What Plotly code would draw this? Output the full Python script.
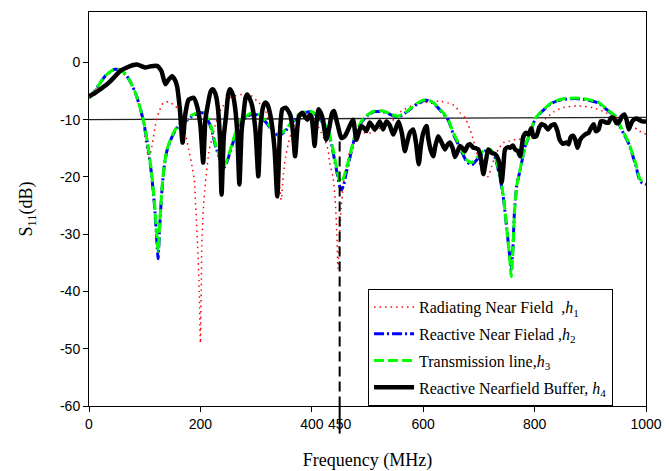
import plotly.graph_objects as go

# ---------------- data ----------------
freq_h1 = [0, 10, 20, 30, 40, 47, 55, 65, 75, 86, 92, 98, 101, 104, 107, 110, 113, 119, 125, 134,
           143, 155, 161, 170, 179, 185, 189, 192, 195, 198, 200, 201.5, 202.5, 205, 209, 216, 222,
           228, 237, 252, 275, 293, 302, 314, 327, 334, 340, 345, 349, 353, 358, 365, 377, 390, 399,
           411, 417, 423, 429, 432, 438, 442, 445, 447, 450, 453, 456, 462, 470, 483, 495, 507, 519,
           534, 543, 561, 585, 610, 633, 645, 657, 666, 675, 684, 690, 699, 705, 711, 717, 723, 729,
           735, 744, 753, 762, 771, 780, 792, 807, 820, 835, 851, 877, 904, 922, 952, 976, 988, 1000]
s11_h1 = [-6.3, -5.0, -3.6, -2.3, -1.5, -1.3, -1.5, -2.3, -3.7, -5.9, -8.5, -10.8, -13.5, -15.2, -16.6,
          -16.0, -14.6, -11.1, -8.8, -7.0, -6.9, -7.6, -8.5, -11.1, -15.2, -18.1, -20.5, -26, -32, -40,
          -49, -40, -32, -26, -21, -15.2, -12.9, -10.5, -8.2, -6.2, -5.6, -5.9, -6.8, -7.9, -11.1, -14,
          -19, -24, -19.5, -16.5, -14.2, -11.7, -9.4, -8.8, -9.4, -11.1, -12.3, -13.5, -15.2, -17.5,
          -20, -24, -30, -36, -30, -25, -22, -18, -15, -12.9, -12.3, -12.3, -11.7, -10.5, -10.3, -8.5,
          -7.4, -6.9, -6.8, -7.1, -7.6, -8.8, -9.7, -11.7, -13.5, -17, -18.7, -19.9, -19.9, -18.1,
          -16.4, -15.2, -14, -13.8, -13.5, -13.5, -13.2, -12.3, -11.1, -9.8, -8.6, -7.9, -7.6, -7.9,
          -8.5, -10, -11.1, -12, -12.5]

freq_h3 = [0, 10, 20, 30, 40, 47, 55, 65, 75, 85, 92, 98, 105, 112, 118, 122, 124, 127, 131, 135, 140,
           150, 160, 170, 185, 200, 207, 213, 219, 228, 237, 243, 248, 252, 261, 270, 282, 293, 305,
           318, 329, 341, 353, 365, 377, 395, 404, 417, 429, 438, 444, 450, 453, 457, 462, 468, 477,
           489, 501, 513, 528, 543, 555, 567, 579, 590, 600, 606, 618, 633, 645, 654, 666, 678, 687,
           699, 711, 720, 729, 738, 744, 750, 755, 758, 761, 764, 768, 774, 783, 792, 801, 813, 831,
           849, 873, 897, 915, 930, 945, 957, 969, 981, 990, 1000]
s11_h3 = [-6.3, -5.0, -3.6, -2.3, -1.5, -1.2, -1.3, -2.0, -3.5, -5.8, -8.0, -10.3, -14, -19, -25, -30.5,
          -33, -28, -22, -18, -15.2, -12.6, -11, -10.3, -9.2, -8.6, -8.7, -9.8, -11.1, -14.6, -17, -18,
          -17, -15.8, -12.9, -10.3, -9.4, -8.8, -9.1, -10.3, -11.7, -12.6, -11.7, -10.3, -9.1, -8.5,
          -8.8, -10, -11.7, -15.2, -18.1, -20.8, -21, -20.2, -18.5, -16.4, -12.9, -10.3, -9.1, -8.5,
          -8.5, -9.1, -9.4, -8.8, -7.9, -7.1, -6.6, -6.5, -7.0, -8.5, -10, -12.3, -14.6, -17, -17.5,
          -16.4, -15.2, -15.2, -16.4, -19.9, -23.4, -29, -34, -37.4, -33, -26, -21.5, -18.7, -14.6,
          -12.3, -9.8, -8.5, -7.0, -6.4, -6.2, -6.5, -7.0, -8.2, -9.4, -11.7, -14, -17.5, -20.5, -21]

freq_h2 = freq_h3
s11_h2 = [-6.2, -5.0, -3.6, -2.3, -1.5, -1.2, -1.3, -2.0, -3.5, -5.8, -8.0, -10.4, -14.2, -19.3, -25.5,
          -31.5, -34.3, -28.5, -22.3, -18.2, -15.4, -12.8, -11.2, -10.5, -9.4, -8.8, -8.9, -10, -11.4,
          -14.9, -17.3, -18.3, -17.3, -16.1, -13.2, -10.6, -9.6, -9.0, -9.3, -10.5, -11.9, -12.8,
          -11.9, -10.5, -9.3, -8.6, -8.9, -10.2, -12, -15.6, -18.6, -21.6, -22.3, -21.5, -19.2, -16.8,
          -13.2, -10.5, -9.2, -8.6, -8.6, -9.2, -9.5, -8.9, -8.0, -7.2, -6.7, -6.6, -7.1, -8.6, -10.1,
          -12.5, -14.9, -17.3, -17.9, -16.7, -15.5, -15.5, -16.7, -20.2, -23.7, -29, -33.5, -36.3,
          -32.5, -25.8, -21.5, -18.8, -14.7, -12.4, -9.9, -8.6, -7.1, -6.5, -6.3, -6.6, -7.1, -8.3,
          -9.5, -11.9, -14.2, -17.8, -20.8, -21.3]

freq_h4 = [0, 10, 20, 30, 38, 47, 56, 68, 78, 86, 95, 101, 110, 122, 130, 137, 143, 149, 154, 158, 163,
           168, 173, 179, 188, 195, 200, 205, 209, 213, 218, 222, 227, 231, 235, 238, 242, 246, 250,
           253, 257, 261, 266, 270, 274, 277, 281, 284, 288, 293, 299, 304, 308, 313, 317, 320, 326,
           333, 338, 343, 347, 353, 358, 362, 366, 370, 374, 377, 383, 388, 392, 396, 399, 402, 405,
           408, 412, 416, 420, 426, 432, 436, 440, 444, 447, 453, 459, 464, 468, 474, 480, 485, 489,
           494, 498, 504, 508, 513, 518, 522, 528, 534, 540, 546, 551, 556, 562, 567, 571, 576, 582,
           587, 592, 596, 600, 606, 609, 614, 618, 622, 627, 633, 639, 643, 648, 653, 657, 662, 666,
           671, 675, 680, 684, 690, 695, 699, 704, 708, 712, 717, 723, 729, 735, 738, 741, 744, 747,
           752, 756, 761, 765, 770, 774, 780, 785, 789, 794, 798, 803, 808, 812, 818, 824, 830, 836,
           841, 845, 851, 857, 861, 865, 869, 873, 877, 882, 887, 892, 897, 901, 906, 910, 915, 919,
           924, 928, 933, 937, 942, 947, 951, 957, 961, 965, 969, 974, 978, 983, 987, 993, 1000]
s11_h4 = [-5.9, -5.4, -4.7, -4.0, -3.3, -2.4, -1.5, -0.9, -0.5, -0.35, -0.7, -0.9, -0.7, -0.6, -1.5,
          -3.8, -3.0, -2.4, -3.0, -4.1, -8, -14, -9, -6.5, -6.2, -8, -11, -17.5, -10, -7.6, -5.2, -4.7,
          -5.5, -7.6, -13, -23.1, -13, -9.4, -5.5, -4.7, -5.3, -7, -12, -21.3, -12, -9.4, -6.2, -5.6,
          -6.2, -7.6, -12, -19.9, -11, -7.6, -7, -7.3, -9.4, -15, -23.4, -12, -8.2, -7.9, -8.5, -9.4,
          -12, -16.4, -11.5, -9.4, -8.8, -9.5, -10, -9.2, -9.4, -11.5, -14.6, -11, -8.2, -8.8, -10,
          -13.5, -11.1, -9, -8.5, -10, -11.1, -13.2, -12.9, -12, -11.1, -10, -13.5, -12, -11.1, -11.5,
          -12, -10.5, -11, -11.7, -11, -10.3, -11.7, -10.3, -11, -12.6, -11.5, -10.3, -12.5, -15.5,
          -14, -12.3, -11.7, -14, -17.8, -14.5, -12.3, -11.1, -13.2, -15.5, -16.4, -14.5, -12.9, -14,
          -15.2, -14.5, -14, -15, -16.5, -15.5, -14.6, -15, -15.5, -14.5, -14.3, -14.9, -15, -15.2,
          -17, -19.5, -17.5, -15.2, -15.8, -16, -17, -18.5, -21, -18, -15.2, -14.8, -14.9, -14.5,
          -15.2, -15.5, -16.4, -12.9, -12.3, -12.6, -11.5, -13, -12.9, -11.5, -10.8, -11, -11.7, -11,
          -10.8, -12, -13.5, -14.2, -14, -14.3, -13, -12.8, -13.5, -14.9, -13.5, -12.9, -12.5, -12.3,
          -11.5, -10.8, -12, -11.7, -10.3, -10.3, -10.5, -10.5, -9.7, -9.7, -10.6, -10.5, -9.4, -9.1,
          -10, -11.7, -10.5, -10, -9.8, -10, -10.3, -10.3]

ref_level_x = [0, 1000]
ref_level_y = [-10, -9.6]
marker_freq = 450
marker_top = -13.8

x_ticks = [0, 200, 400, 450, 600, 800, 1000]
x_ticktext = ["0", "200", "400", "450", "600", "800", "1000"]
y_ticks = [0, -10, -20, -30, -40, -50, -60]
y_ticktext = ["0", "-10", "-20", "-30", "-40", "-50", "-60"]

names = ["Radiating Near Field  ,<i>h</i><sub>1</sub>",
         "Reactive Near Fielad ,<i>h</i><sub>2</sub>",
         "Transmission line,<i>h</i><sub>3</sub>",
         "Reactive Nearfield Buffer, <i>h</i><sub>4</sub>"]

SERIF = "Liberation Serif"

# ---------------- figure ----------------
fig = go.Figure()
fig.add_trace(go.Scatter(x=freq_h1, y=s11_h1, mode="lines", name=names[0], legendgroup="g1",
                         line=dict(color="#FF0000", width=1.5, dash="1.5px,4px", shape="spline", smoothing=0.6)))
fig.add_trace(go.Scatter(x=freq_h2, y=s11_h2, mode="lines", name=names[1], legendgroup="g2",
                         line=dict(color="#0000FF", width=3, dash="10px,3px,2px,3px", shape="spline", smoothing=0.6)))
fig.add_trace(go.Scatter(x=freq_h3, y=s11_h3, mode="lines", name=names[2], legendgroup="g3",
                         line=dict(color="#00FF00", width=3, dash="10px,4px", shape="spline", smoothing=0.6)))
fig.add_trace(go.Scatter(x=freq_h4, y=s11_h4, mode="lines", name=names[3], legendgroup="g4",
                         line=dict(color="#000000", width=4.5, shape="spline", smoothing=0.6)))

fig.add_shape(type="line", xref="x", yref="y", x0=ref_level_x[0], x1=ref_level_x[1],
              y0=ref_level_y[0], y1=ref_level_y[1], line=dict(color="#222222", width=1.3), layer="below")
fig.add_shape(type="line", xref="x", yref="y", x0=marker_freq, x1=marker_freq,
              y0=marker_top, y1=-60, line=dict(color="black", width=2, dash="10px,5px"))
fig.add_shape(type="line", xref="x", yref="paper", x0=marker_freq, x1=marker_freq,
              y0=0, y1=-0.07, line=dict(color="black", width=2))

axis_font = dict(family="Liberation Sans", size=14, color="black")
fig.update_layout(
    width=669, height=471,
    margin=dict(l=89, r=23, t=12, b=65, autoexpand=False),
    paper_bgcolor="white", plot_bgcolor="white",
    xaxis=dict(range=[0, 1000], tickvals=x_ticks, ticktext=x_ticktext, ticks="outside", ticklen=5,
               tickcolor="black", showline=True, linecolor="black", linewidth=1, mirror=True,
               showgrid=False, zeroline=False, tickfont=axis_font, automargin=False,
               title=dict(text="Frequency (MHz)", font=dict(family=SERIF, size=18, color="black"), standoff=22)),
    yaxis=dict(range=[-60, 8.8], tickvals=y_ticks, ticktext=y_ticktext, ticks="outside", ticklen=5,
               tickcolor="black", showline=True, linecolor="black", linewidth=1, mirror=True,
               showgrid=False, zeroline=False, tickfont=axis_font, automargin=False,
               title=dict(text="S<sub>11</sub>(dB)", font=dict(family=SERIF, size=18, color="black"), standoff=22)),
    legend=dict(x=0.501, y=0, xanchor="left", yanchor="bottom", bgcolor="white",
                bordercolor="black", borderwidth=1, itemwidth=40,
                font=dict(family=SERIF, size=16, color="black"),
                tracegroupgap=3),
    showlegend=True,
)

fig.write_html("out.html", config={"displayModeBar": False},
               post_script="document.body.style.margin='0';document.body.style.padding='0';")
